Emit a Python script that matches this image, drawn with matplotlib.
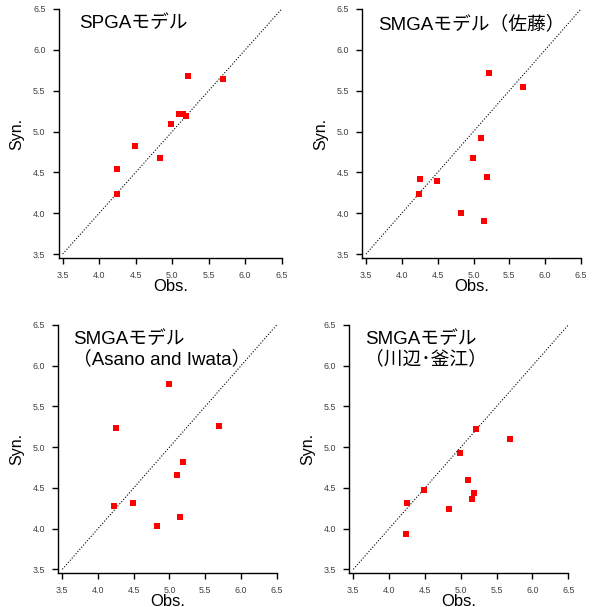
import matplotlib
matplotlib.use("Agg")
import matplotlib.pyplot as plt

plt.rcParams['font.family'] = ['Liberation Sans', 'Noto Sans CJK JP', 'DejaVu Sans']

# observed vs synthetic values for each source model
obs = [4.24, 4.25, 4.49, 4.83, 4.99, 5.10, 5.15, 5.19, 5.21, 5.69]
syn_spga = [4.23, 4.54, 4.82, 4.68, 5.09, 5.21, 5.22, 5.19, 5.68, 5.64]
syn_sato = [4.24, 4.42, 4.39, 4.00, 4.67, 4.92, 3.91, 4.44, 5.72, 5.54]
obs_asano = [4.23, 4.25, 4.49, 4.83, 4.99, 5.11, 5.15, 5.19, 5.69]
syn_asano = [4.28, 5.24, 4.31, 4.03, 5.78, 4.66, 4.14, 4.82, 5.26]
syn_kawabe = [3.93, 4.32, 4.47, 4.24, 4.93, 4.60, 4.36, 4.44, 5.22, 5.10]

titles = ["SPGAモデル", "SMGAモデル（佐藤）",
          "SMGAモデル\n（Asano and Iwata）", "SMGAモデル\n（川辺･釜江）"]
ticks = [3.5, 4.0, 4.5, 5.0, 5.5, 6.0, 6.5]
lo, hi = 3.5, 6.5

W, H = 595, 607
fig = plt.figure(figsize=(W / 100, H / 100), dpi=100)

# pixel boxes of the data range (left, top, right, bottom)
boxes = [(62.7, 9, 281.7, 254), (366, 9, 581, 254),
         (62.3, 325, 276.7, 569.3), (353.3, 325, 568.3, 569.3)]
title_x = [79, 378, 73, 365]
panels = [(obs, syn_spga), (obs, syn_sato), (obs_asano, syn_asano), (obs, syn_kawabe)]
gap = 4.0  # axis lines sit a few pixels off the data range

for (l, t, r, b), (xs, ys), title, tx in zip(boxes, panels, titles, title_x):
    ax = fig.add_axes([(l - gap) / W, 1 - (b + gap) / H, (r - l + gap) / W, (b - t + gap) / H])
    ux = (hi - lo) / (r - l)
    uy = (hi - lo) / (b - t)
    ax.set_xlim(lo - gap * ux, hi)
    ax.set_ylim(lo - gap * uy, hi)
    ax.plot([lo, hi], [lo, hi], color='black', lw=0.8, ls=(0, (1, 1.6)))
    ax.plot(xs, ys, 's', color='#ff0000', ms=4.8, mew=0)
    for s in ['top', 'right']:
        ax.spines[s].set_visible(False)
    for s in ['left', 'bottom']:
        ax.spines[s].set_linewidth(1.0)
    ax.set_xticks(ticks)
    ax.set_yticks(ticks)
    ax.set_xticklabels([f"{v:.1f}" for v in ticks])
    ax.set_yticklabels([f"{v:.1f}" for v in ticks])
    ax.tick_params(direction='out', length=4.5, width=1, pad=5, labelsize=6.4,
                   labelcolor='#404040')
    ax.set_xlabel("Obs.", fontsize=12)
    ax.xaxis.set_label_coords(0.5, -0.085)
    ax.set_ylabel("Syn.", fontsize=11.5)
    ax.yaxis.set_label_coords(-34 / (r - l + gap), 0.5)
    # panel title, top edge a little below the top of the axis
    fig.text(tx / W, 1 - (t + 6) / H, title, ha='left', va='top',
             fontsize=13.5, linespacing=1.15)

fig.savefig("out.png", dpi=100)
